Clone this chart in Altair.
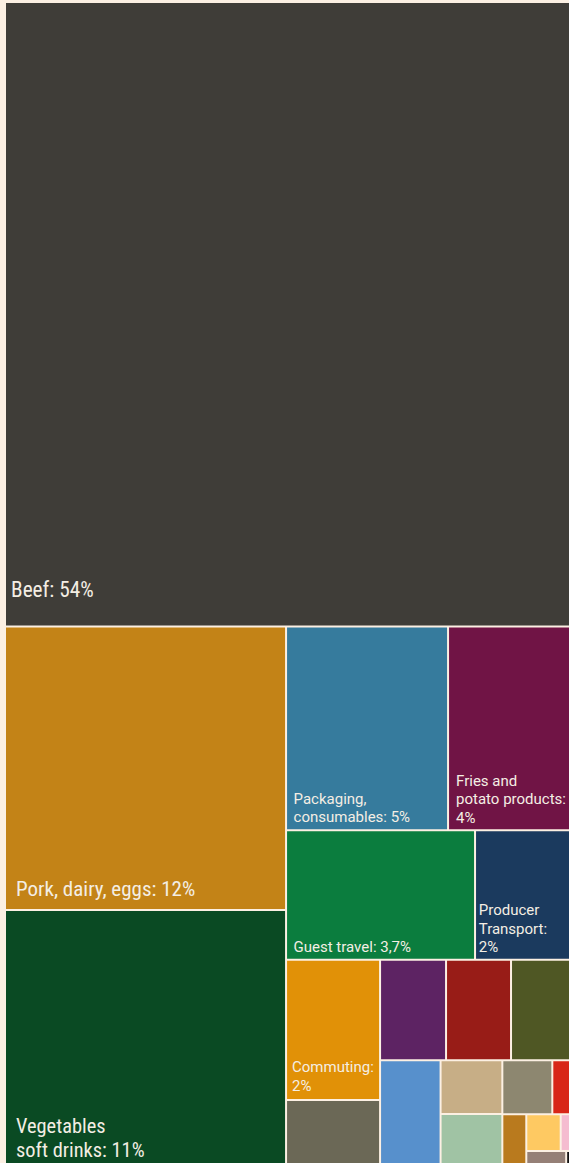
import altair as alt
import pandas as pd

# ---- data (share of total footprint, %) ----
categories = [
    "Beef", "Pork, dairy, eggs", "Vegetables, soft drinks", "Packaging, consumables",
    "Fries and potato products", "Guest travel", "Producer transport", "Commuting",
    "Other A", "Other B", "Other C", "Other D", "Other E", "Other F", "Other G",
    "Other H", "Other I", "Other J", "Other K", "Other L", "Other M", "Other N",
]
shares = [
    53.6, 11.95, 10.84, 4.95, 3.94, 3.67, 1.98, 1.98,
    0.945, 0.995, 0.98, 0.995, 0.97, 0.50, 0.49,
    0.405, 0.20, 0.19, 0.19, 0.09, 0.096, 0.026,
]
labels = [
    "Beef: 54%", "Pork, dairy, eggs: 12%", "Vegetables\nsoft drinks: 11%",
    "Packaging,\nconsumables: 5%", "Fries and\npotato products:\n4%",
    "Guest travel: 3,7%", "Producer\nTransport:\n2%", "Commuting:\n2%",
    "", "", "", "", "", "", "", "", "", "", "", "", "", "",
]
colors = [
    "#3f3d38", "#c38317", "#0a4a23", "#367b9d", "#701445", "#0b7d3e", "#1b3a5e",
    "#e19107", "#6b6856", "#5d2363", "#981c17", "#4f5724", "#5790cc", "#c7ae86",
    "#a0c3a4", "#8d8770", "#d82617", "#b97a1e", "#fec962", "#f5bcd0", "#958077",
    "#111111",
]
# how many tiles each squarified row holds (in layout order)
row_sizes = [1, 2, 2, 2, 2, 3, 1, 2, 2, 1, 2, 1, 1]

# ---- style / layout settings ----
BG = "#fcf0e3"
TEXT = "#f4eee4"
ORIGIN_X, ORIGIN_Y = 5, 2
TREE_W, TREE_H = 572, 1165
GAP = 2
VIEW_W, VIEW_H = 569, 1163
# label style: index -> (font size, dx from tile left, baseline offset from tile bottom, line height)
label_style = {
    0: (21.3, 5, 29, 23.7),
    1: (21.0, 10, 13, 23.7),
    2: (20.4, 10, 9.3, 23.7),
    3: (15, 6.5, 6.7, 18.8),
    4: (15, 7, 6.3, 18.6),
    5: (15, 6.5, 6.8, 18.7),
    6: (15, 2.7, 6.2, 18.7),
    7: (15, 5, 8, 18.7),
}


def squarify_rows(values, rows, x0, y0, x1, y1):
    """d3-style squarified treemap with given row breaks."""
    rects = []
    i = 0
    remaining = sum(values)
    for n in rows:
        grp = values[i:i + n]
        s = sum(grp)
        dx, dy = x1 - x0, y1 - y0
        if dx < dy:
            h = dy * s / remaining
            cx = x0
            for v in grp:
                w = dx * v / s
                rects.append((cx, y0, cx + w, y0 + h))
                cx += w
            y0 += h
        else:
            w = dx * s / remaining
            cy = y0
            for v in grp:
                hh = dy * v / s
                rects.append((x0, cy, x0 + w, cy + hh))
                cy += hh
            x0 += w
        remaining -= s
        i += n
    return rects


rects = squarify_rows(shares, row_sizes, ORIGIN_X, ORIGIN_Y,
                      ORIGIN_X + TREE_W, ORIGIN_Y + TREE_H)

tiles = pd.DataFrame({
    "name": categories,
    "share": shares,
    "color": colors,
    "x0": [r[0] + GAP / 2 for r in rects],
    "x1": [r[2] - GAP / 2 for r in rects],
    "y0": [r[1] + GAP / 2 for r in rects],
    "y1": [r[3] - GAP / 2 for r in rects],
})

lab_rows = []
for i, (fs, dx, dyb, lh) in label_style.items():
    n_lines = labels[i].count("\n") + 1
    lab_rows.append({
        "text": labels[i],
        "x": tiles.loc[i, "x0"] + dx,
        "y": tiles.loc[i, "y1"] - dyb - (n_lines - 1) * lh,
        "fs": fs,
        "big": fs > 18,
    })
lab = pd.DataFrame(lab_rows)

xs = alt.Scale(domain=[0, VIEW_W], nice=False, zero=False)
ys = alt.Scale(domain=[0, VIEW_H], nice=False, zero=False, reverse=True)

rect_layer = alt.Chart(tiles).mark_rect(clip=True, strokeWidth=0).encode(
    x=alt.X("x0:Q", scale=xs, axis=None),
    x2="x1:Q",
    y=alt.Y("y0:Q", scale=ys, axis=None),
    y2="y1:Q",
    color=alt.Color("color:N", scale=None),
    tooltip=["name:N", "share:Q"],
)

big_text = alt.Chart(lab).transform_filter("datum.big").mark_text(
    align="left", baseline="alphabetic", lineBreak="\n", lineHeight=23.7,
    font="Roboto Condensed", color=TEXT, clip=True,
).encode(
    x=alt.X("x:Q", scale=xs, axis=None),
    y=alt.Y("y:Q", scale=ys, axis=None),
    text="text:N",
    size=alt.Size("fs:Q", scale=None),
)

small_text = alt.Chart(lab).transform_filter("!datum.big").mark_text(
    align="left", baseline="alphabetic", lineBreak="\n", lineHeight=18.7,
    font="Roboto", color=TEXT, clip=True,
).encode(
    x=alt.X("x:Q", scale=xs, axis=None),
    y=alt.Y("y:Q", scale=ys, axis=None),
    text="text:N",
    size=alt.Size("fs:Q", scale=None),
)

chart = alt.layer(rect_layer, big_text, small_text).properties(
    width=VIEW_W, height=VIEW_H, padding=0, background=BG,
    autosize=alt.AutoSizeParams(type="none"),
).configure_view(stroke=None, strokeWidth=0)

chart.save("out.html", embed_options={"renderer": "svg", "actions": False})
